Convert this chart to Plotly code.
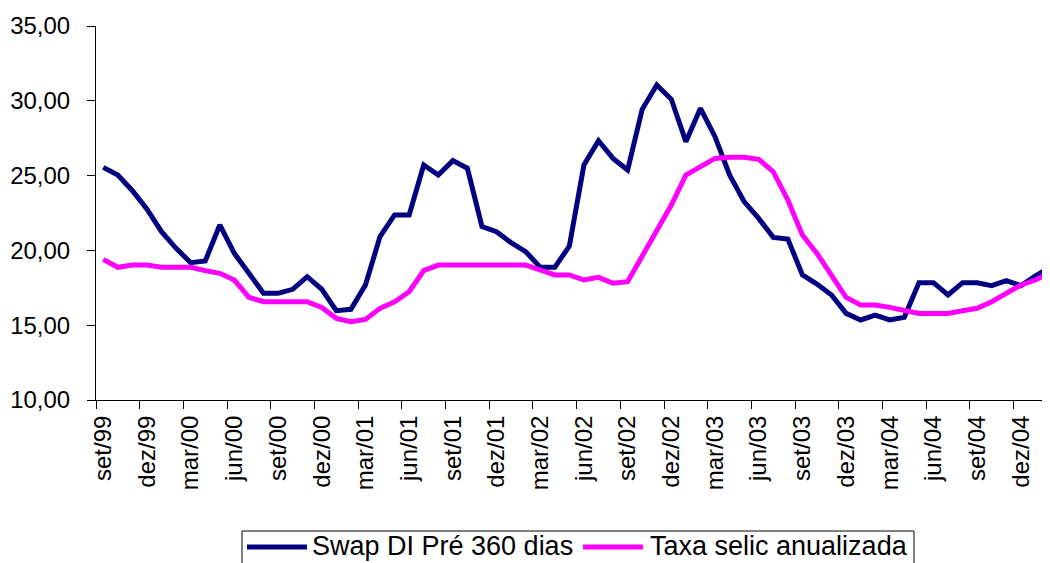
import plotly.graph_objs as go

MESES = ['jan', 'fev', 'mar', 'abr', 'mai', 'jun', 'jul', 'ago', 'set', 'out', 'nov', 'dez']

# set/99 .. fev/05, monthly
periodos = []
for ano in range(1999, 2006):
    for m, nome in enumerate(MESES):
        if (ano == 1999 and m < 8) or (ano == 2005 and m > 1):
            continue
        periodos.append('%s/%02d' % (nome, ano % 100))

swap_di_pre_360 = [
    25.55, 25.04, 23.99, 22.75, 21.25, 20.14, 19.18, 19.29, 21.70, 19.80,
    18.47, 17.13, 17.13, 17.40, 18.24, 17.40, 15.97, 16.06, 17.69, 20.92,
    22.37, 22.37, 25.71, 25.04, 26.00, 25.49, 21.59, 21.25, 20.52, 19.92,
    18.87, 18.87, 20.29, 25.71, 27.33, 26.15, 25.37, 29.43, 31.06, 30.10,
    27.27, 29.50, 27.60, 25.04, 23.26, 22.14, 20.87, 20.76, 18.36, 17.75,
    17.02, 15.79, 15.35, 15.68, 15.35, 15.53, 17.84, 17.84, 17.02, 17.84,
    17.84, 17.64, 17.98, 17.64, 18.29, 18.87,
]

selic_anualizada = [
    19.40, 18.87, 19.02, 19.02, 18.87, 18.87, 18.87, 18.65, 18.47, 18.02,
    16.86, 16.57, 16.57, 16.57, 16.57, 16.19, 15.46, 15.24, 15.39, 16.13,
    16.57, 17.24, 18.65, 19.02, 19.02, 19.02, 19.02, 19.02, 19.02, 19.02,
    18.69, 18.36, 18.36, 18.02, 18.20, 17.80, 17.91, 19.58, 21.25, 23.03,
    25.04, 25.64, 26.15, 26.22, 26.22, 26.09, 25.26, 23.37, 21.03, 19.80,
    18.36, 16.86, 16.35, 16.35, 16.19, 15.97, 15.79, 15.79, 15.79, 15.97,
    16.13, 16.57, 17.13, 17.69, 18.02, 18.51,
]

series = [
    ('Swap DI Pré 360 dias', swap_di_pre_360, '#000080'),
    ('Taxa selic anualizada', selic_anualizada, '#FF00FF'),
]

FONTE = 'Arial, Liberation Sans, sans-serif'

# page body has an 8px margin, figure sized to fit the window
W, H = 1042, 555
ML, MR, MT, MB = 88, 0, 18, 163
PW, PH = W - ML - MR, H - MT - MB


def px(x):
    return (x - 8 - ML) / PW


def py(y):
    return (H - MB - (y - 8)) / PH


fig = go.Figure()
for nome, valores, cor in series:
    fig.add_trace(go.Scatter(x=periodos, y=valores, mode='lines', name=nome,
                             line=dict(color=cor, width=5)))

# legend drawn by hand so the sample lines match the original length
shapes = [dict(type='rect', xref='paper', yref='paper', x0=px(242), x1=px(914),
               y0=py(531), y1=py(580), line=dict(color='black', width=1),
               fillcolor='white', layer='above')]
annotations = []
for (nome, valores, cor), (x_linha, x_texto) in zip(series, [(247, 310), (583, 648)]):
    shapes.append(dict(type='line', xref='paper', yref='paper', x0=px(x_linha), x1=px(x_linha + 60),
                       y0=py(547), y1=py(547), line=dict(color=cor, width=5)))
    annotations.append(dict(text=nome, xref='paper', yref='paper', x=px(x_texto), y=py(546),
                            xanchor='left', yanchor='middle', showarrow=False,
                            font=dict(size=27, color='black')))

fig.update_layout(
    width=W, height=H,
    margin=dict(l=ML, r=MR, t=MT, b=MB, autoexpand=False),
    paper_bgcolor='white', plot_bgcolor='white',
    separators=',.',
    font=dict(family=FONTE, size=24, color='black'),
    showlegend=False,
    shapes=shapes,
    annotations=annotations,
    xaxis=dict(type='category', range=[-0.5, 65.0], tickmode='linear', tick0=0, dtick=3,
               tickson='boundaries', ticks='outside', ticklen=8, tickcolor='black',
               tickangle=-90, showline=True, linecolor='black', linewidth=1,
               showgrid=False, zeroline=False, ticklabelstandoff=5),
    yaxis=dict(range=[10, 35], dtick=5, tickformat='.2f', ticks='outside', ticklen=8,
               tickcolor='black', showline=True, linecolor='black', linewidth=1,
               showgrid=False, zeroline=False, ticklabelstandoff=12),
)

fig.write_html("out.html")
